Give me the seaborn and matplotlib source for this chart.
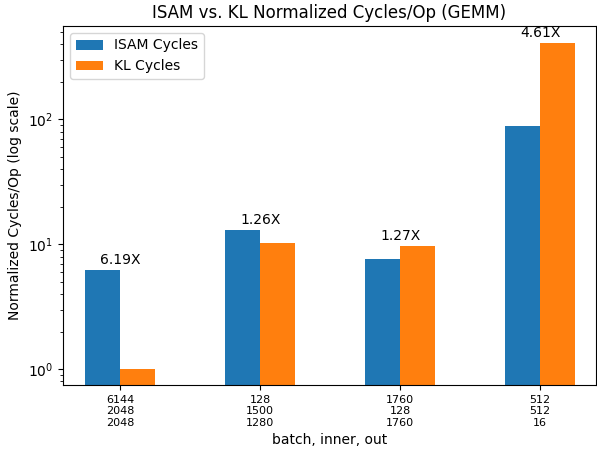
import pandas as pd
import seaborn as sns
import matplotlib
matplotlib.use("Agg")
import matplotlib.pyplot as plt

# data
shapes = ["6144\n2048\n2048", "128\n1500\n1280", "1760\n128\n1760", "512\n512\n16"]
isam_cycles = [6.19, 13.0, 7.6, 88.0]
kl_cycles = [1.0, 10.3, 9.65, 406.0]
speedups = [6.19, 1.26, 1.27, 4.61]


def build_frame():
    rows = []
    for s, a, b in zip(shapes, isam_cycles, kl_cycles):
        rows.append([s, "ISAM Cycles", a])
        rows.append([s, "KL Cycles", b])
    return pd.DataFrame(rows, columns=["shape", "kind", "cycles"])


def graph_cycles(df):
    fig, ax = plt.subplots(figsize=(5.97, 4.49), dpi=100)
    sns.barplot(data=df, x="shape", y="cycles", hue="kind",
                palette=["#1f77b4", "#ff7f0e"], saturation=1,
                width=0.5, errorbar=None, ax=ax)
    ax.set_yscale("log")
    ax.set_ylim(0.75, 560)
    ax.set_xlim(-0.41, 3.4)

    for i, r in enumerate(speedups):
        top = max(isam_cycles[i], kl_cycles[i])
        ax.text(i, top * 1.06, f"{r:.2f}X", ha="center", va="bottom", fontsize=10)

    ax.tick_params(axis="x", labelsize=8)
    ax.set_xlabel("batch, inner, out")
    ax.set_ylabel("Normalized Cycles/Op (log scale)")
    ax.set_title("ISAM vs. KL Normalized Cycles/Op (GEMM)")
    handles, labels = ax.get_legend_handles_labels()
    ax.legend(handles, labels, loc="upper left")
    fig.subplots_adjust(left=63 / 597, right=596 / 597,
                        top=1 - 26 / 449, bottom=1 - 385 / 449)
    fig.savefig("out.png")


if __name__ == "__main__":
    graph_cycles(build_frame())
